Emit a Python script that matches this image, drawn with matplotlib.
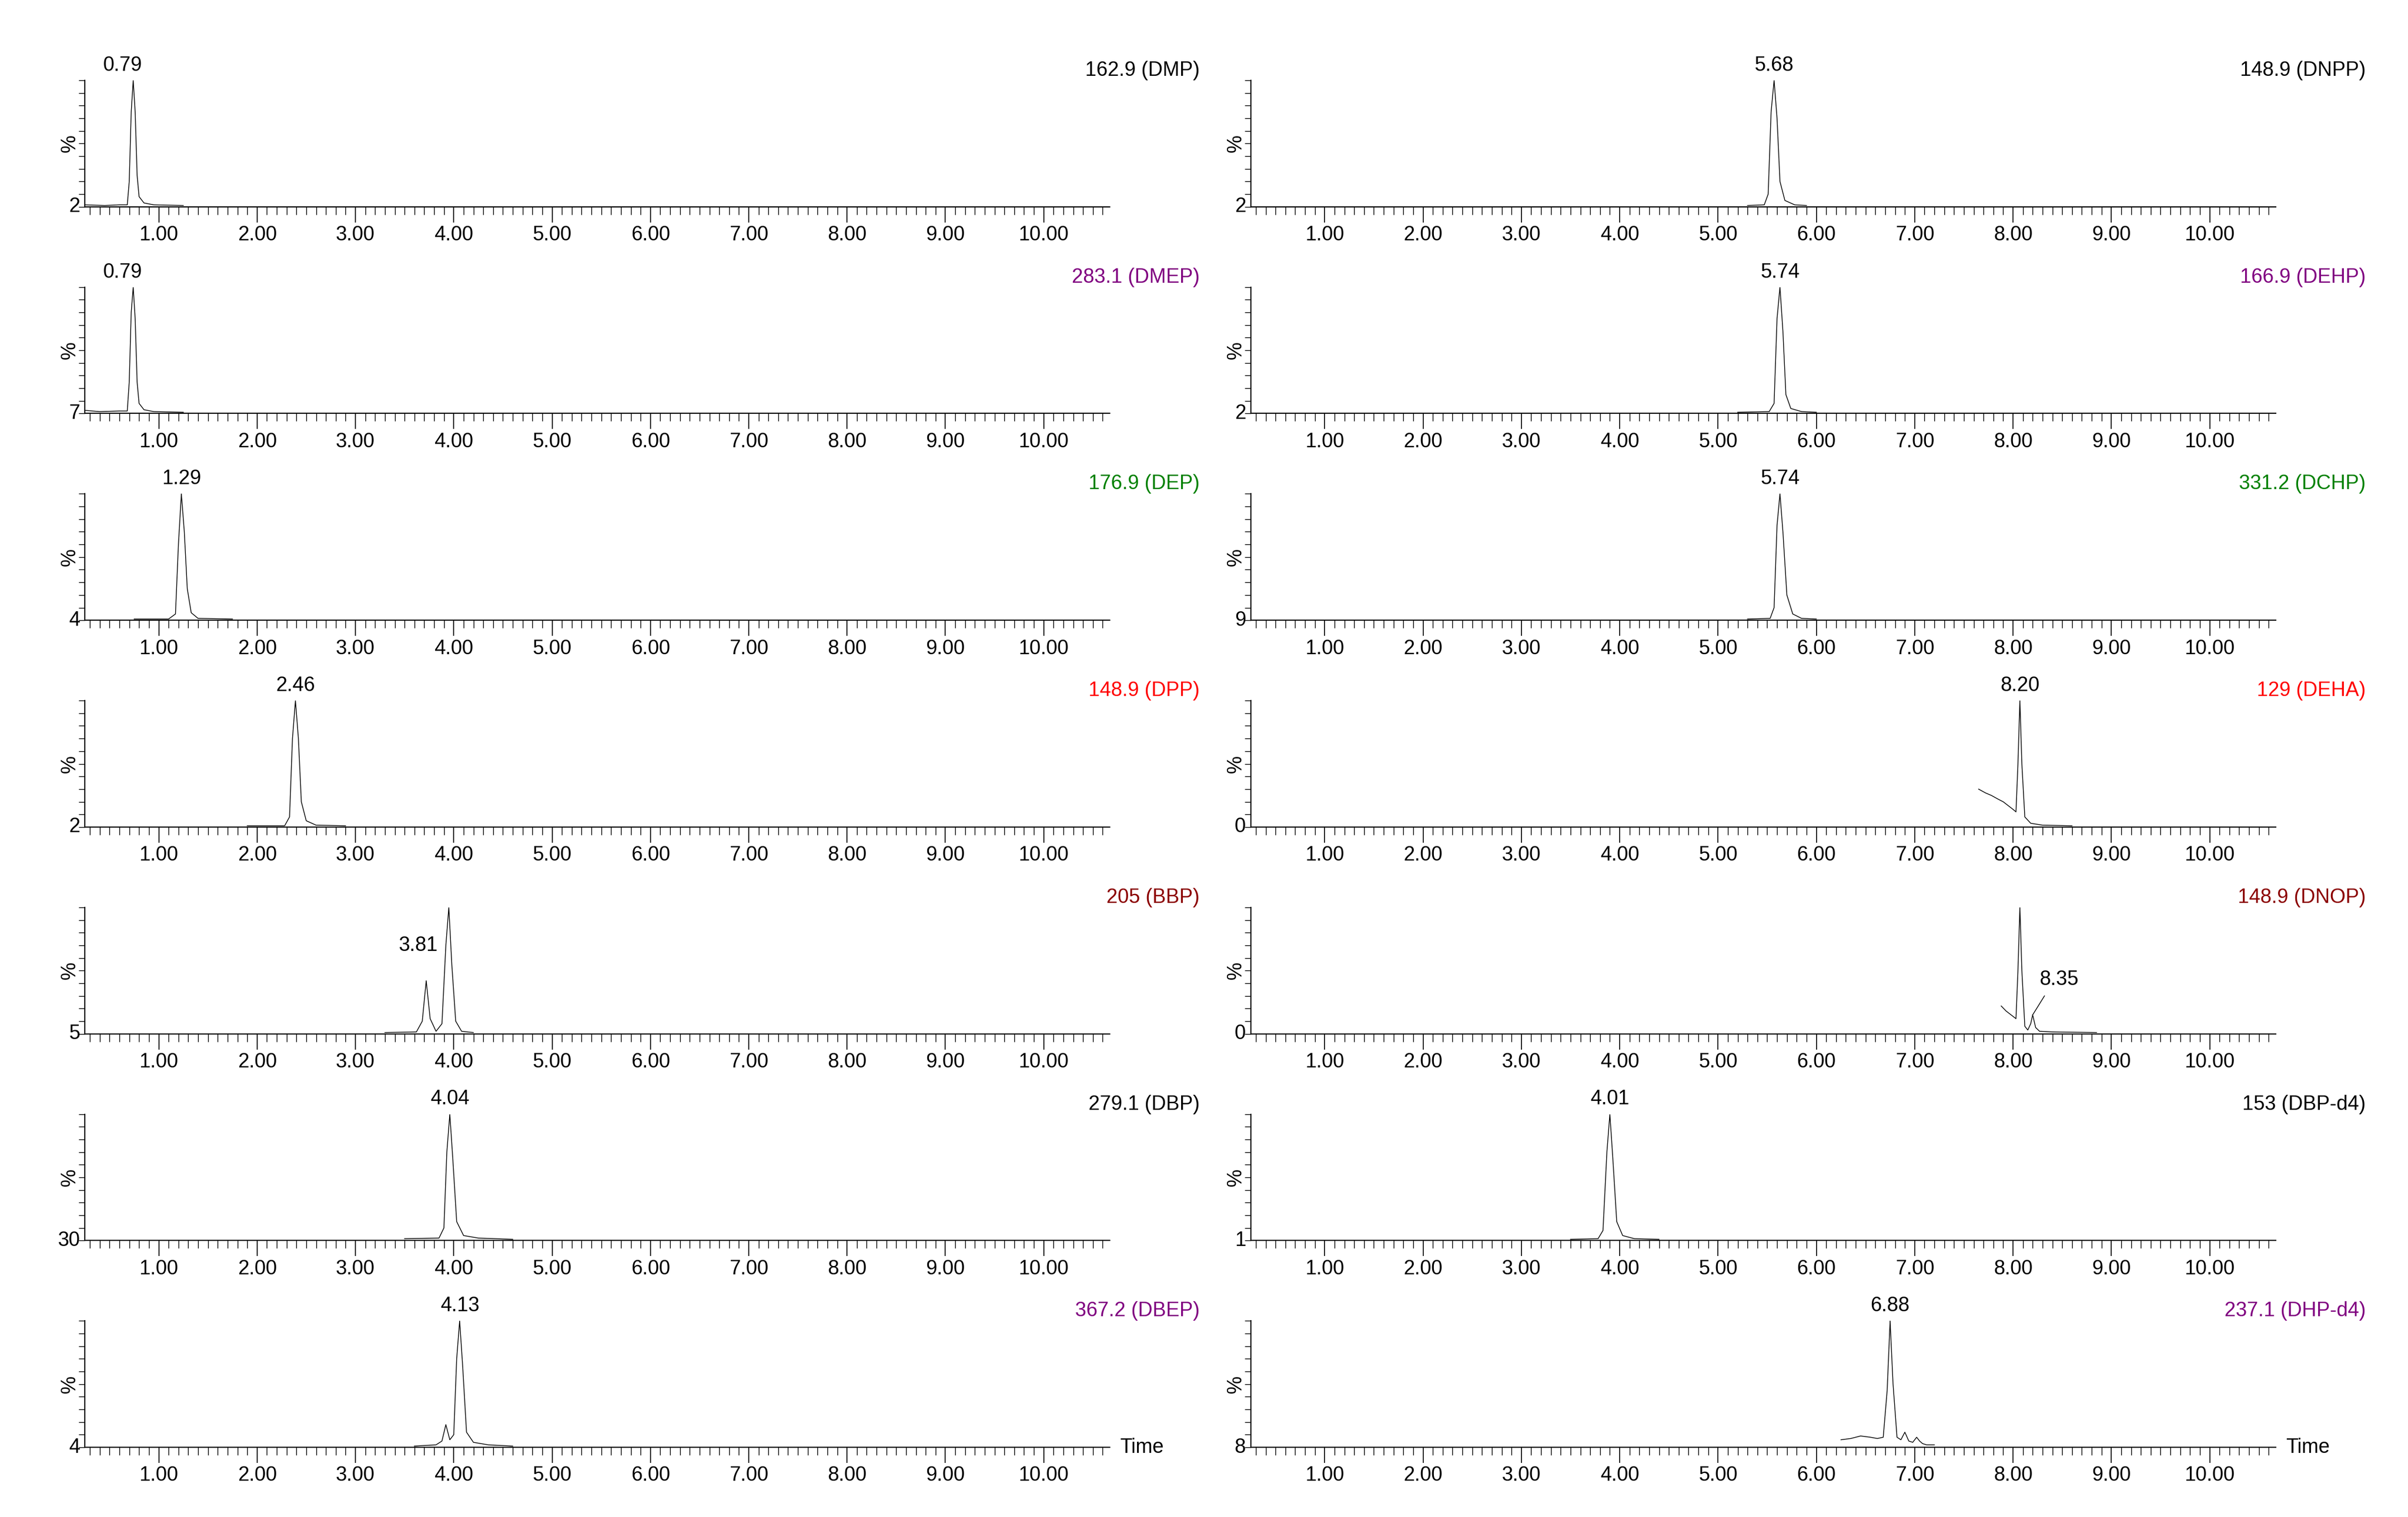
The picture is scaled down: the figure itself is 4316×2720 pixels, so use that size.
import matplotlib
matplotlib.use("Agg")
import matplotlib.pyplot as plt
from matplotlib.ticker import MultipleLocator, FixedLocator

plt.rcParams['font.family'] = ['Liberation Sans', 'DejaVu Sans']

# ---------------- data ----------------
titles_left = ["162.9 (DMP)", "283.1 (DMEP)", "176.9 (DEP)", "148.9 (DPP)", "205 (BBP)", "279.1 (DBP)", "367.2 (DBEP)"]
titles_right = ["148.9 (DNPP)", "166.9 (DEHP)", "331.2 (DCHP)", "129 (DEHA)", "148.9 (DNOP)", "153 (DBP-d4)", "237.1 (DHP-d4)"]
title_colors = ["black", "#800080", "#008000", "red", "#8B0000", "black", "#800080"]
ymin_left = ["2", "7", "4", "2", "5", "30", "4"]
ymin_right = ["2", "2", "9", "0", "0", "1", "8"]

# traces: (time, %) points
t_dmp = [0.25, 0.45, 0.6, 0.68, 0.70, 0.72, 0.74, 0.76, 0.78, 0.80, 0.85, 0.95, 1.25]
i_dmp = [1.5, 1.0, 1.5, 1.5, 20, 75, 100, 75, 25, 8, 3, 1.5, 1.0]
t_dmep = [0.25, 0.4, 0.6, 0.68, 0.70, 0.72, 0.74, 0.76, 0.78, 0.80, 0.85, 0.95, 1.25]
i_dmep = [2.5, 1.5, 2.0, 2.0, 25, 80, 100, 75, 25, 8, 3, 1.5, 1.0]
t_dep = [0.75, 1.1, 1.17, 1.20, 1.23, 1.26, 1.29, 1.33, 1.40, 1.75]
i_dep = [1.0, 1.0, 5, 60, 100, 70, 25, 6, 1.5, 1.0]
t_dpp = [1.9, 2.28, 2.33, 2.36, 2.39, 2.42, 2.45, 2.50, 2.60, 2.9]
i_dpp = [1.0, 1.0, 8, 70, 100, 70, 20, 5, 1.5, 1.0]
t_bbp = [3.3, 3.62, 3.68, 3.72, 3.76, 3.82, 3.88, 3.92, 3.95, 3.98, 4.02, 4.08, 4.2]
i_bbp = [1.0, 1.5, 10, 42, 12, 2, 8, 70, 100, 55, 10, 2, 1.0]
t_dbp = [3.5, 3.85, 3.90, 3.93, 3.96, 3.99, 4.03, 4.10, 4.25, 4.6]
i_dbp = [1.5, 2.0, 10, 70, 100, 65, 15, 4, 2, 1.0]
t_dbep = [3.6, 3.82, 3.88, 3.92, 3.96, 4.00, 4.03, 4.06, 4.09, 4.13, 4.2, 4.35, 4.6]
i_dbep = [1.0, 2.0, 5, 18, 6, 10, 70, 100, 65, 12, 4, 2, 1.0]

t_dnpp = [5.3, 5.47, 5.51, 5.54, 5.57, 5.60, 5.63, 5.68, 5.78, 5.9]
i_dnpp = [1.0, 1.5, 10, 75, 100, 70, 20, 5, 1.5, 1.0]
t_dehp = [5.2, 5.52, 5.57, 5.60, 5.63, 5.66, 5.69, 5.74, 5.85, 6.0]
i_dehp = [1.0, 1.5, 8, 75, 100, 65, 15, 4, 1.5, 1.0]
t_dchp = [5.3, 5.53, 5.57, 5.60, 5.63, 5.66, 5.70, 5.76, 5.85, 6.0]
i_dchp = [1.0, 1.5, 10, 75, 100, 70, 20, 5, 1.5, 1.0]
t_deha = [7.65, 7.72, 7.78, 7.85, 7.90, 7.95, 8.00, 8.03, 8.05, 8.07, 8.09, 8.12, 8.18, 8.3, 8.6]
i_deha = [30, 27, 25, 22, 20, 17, 14, 12, 50, 100, 50, 8, 3, 1.5, 1.0]
t_dnop = [7.88, 7.93, 7.98, 8.03, 8.05, 8.07, 8.09, 8.12, 8.15, 8.18, 8.20, 8.23, 8.27, 8.4, 8.85]
i_dnop = [22, 18, 15, 12, 50, 100, 50, 6, 3, 8, 15, 5, 2, 1.5, 1.0]
t_dbpd4 = [3.5, 3.78, 3.83, 3.87, 3.90, 3.93, 3.97, 4.03, 4.15, 4.4]
i_dbpd4 = [1.0, 1.5, 8, 70, 100, 65, 15, 4, 1.5, 1.0]
t_dhpd4 = [6.25, 6.35, 6.45, 6.55, 6.62, 6.68, 6.72, 6.75, 6.78, 6.82, 6.86, 6.90, 6.94, 6.98, 7.02, 7.05, 7.08, 7.12, 7.2]
i_dhpd4 = [6, 7, 9, 8, 7, 8, 45, 100, 50, 8, 6, 12, 5, 4, 8, 5, 3, 2, 2]

traces_left = [(t_dmp, i_dmp), (t_dmep, i_dmep), (t_dep, i_dep), (t_dpp, i_dpp), (t_bbp, i_bbp), (t_dbp, i_dbp), (t_dbep, i_dbep)]
traces_right = [(t_dnpp, i_dnpp), (t_dehp, i_dehp), (t_dchp, i_dchp), (t_deha, i_deha), (t_dnop, i_dnop), (t_dbpd4, i_dbpd4), (t_dhpd4, i_dhpd4)]

# peak labels: (label, x, y)
labels_left = [[("0.79", 0.63, 104)], [("0.79", 0.63, 104)], [("1.29", 1.23, 104)], [("2.46", 2.39, 104)],
               [("3.81", 3.64, 62)], [("4.04", 3.96, 104)], [("4.13", 4.06, 104)]]
labels_right = [[("5.68", 5.57, 104)], [("5.74", 5.63, 104)], [("5.74", 5.63, 104)], [("8.20", 8.07, 104)],
                [("8.35", 8.47, 35)], [("4.01", 3.90, 104)], [("6.88", 6.75, 104)]]

xmajor = [1, 2, 3, 4, 5, 6, 7, 8, 9, 10]
xmajor_labels = ["1.00", "2.00", "3.00", "4.00", "5.00", "6.00", "7.00", "8.00", "9.00", "10.00"]

# ---------------- figure ----------------
fig = plt.figure(figsize=(43.16, 27.2), dpi=100)
FS = 26
lefts = [0.0353, 0.5195]
width = 0.4255
height = 0.0834
step = 0.1363
bottom0 = 0.8637

cols = [(titles_left, ymin_left, traces_left, labels_left),
        (titles_right, ymin_right, traces_right, labels_right)]

for c, (titles, ymins, traces, labs) in enumerate(cols):
    for r in range(7):
        ax = fig.add_axes([lefts[c], bottom0 - r * step, width, height])
        t, y = traces[r]
        ax.plot(t, y, color="black", lw=1.0)
        if c == 1 and r == 4:
            ax.plot([8.20, 8.32], [15, 30], color="black", lw=1.0)
        ax.set_xlim(0.25, 10.67)
        ax.set_ylim(0, 100)
        for s in ["top", "right"]:
            ax.spines[s].set_visible(False)
        ax.spines["left"].set_linewidth(1.5)
        ax.spines["bottom"].set_linewidth(1.5)
        ax.xaxis.set_major_locator(FixedLocator(xmajor))
        ax.set_xticklabels(xmajor_labels, fontsize=FS)
        ax.xaxis.set_minor_locator(MultipleLocator(0.1))
        ax.tick_params(axis="x", which="major", length=20, width=1.2, pad=4)
        ax.tick_params(axis="x", which="minor", length=10, width=1.0)
        ax.yaxis.set_major_locator(MultipleLocator(10))
        ax.set_yticklabels([])
        ax.tick_params(axis="y", which="major", length=8, width=1.0)
        ax.text(-0.005, 0, ymins[r], transform=ax.transAxes, ha="right", va="center", fontsize=FS)
        ax.text(-0.005, 0.5, "%", transform=ax.transAxes, ha="right", va="center", rotation=90, fontsize=FS)
        ax.text(1.088, 1.0, titles[r], transform=ax.transAxes, ha="right", va="bottom",
                fontsize=FS, color=title_colors[r])
        for (lab, lx, ly) in labs[r]:
            ax.text(lx, ly, lab, ha="center", va="bottom", fontsize=FS, clip_on=False)
        if r == 6:
            ax.text(1.01, 0.0, "Time", transform=ax.transAxes, ha="left", va="center", fontsize=FS)

fig.savefig("out.png", dpi=100)
